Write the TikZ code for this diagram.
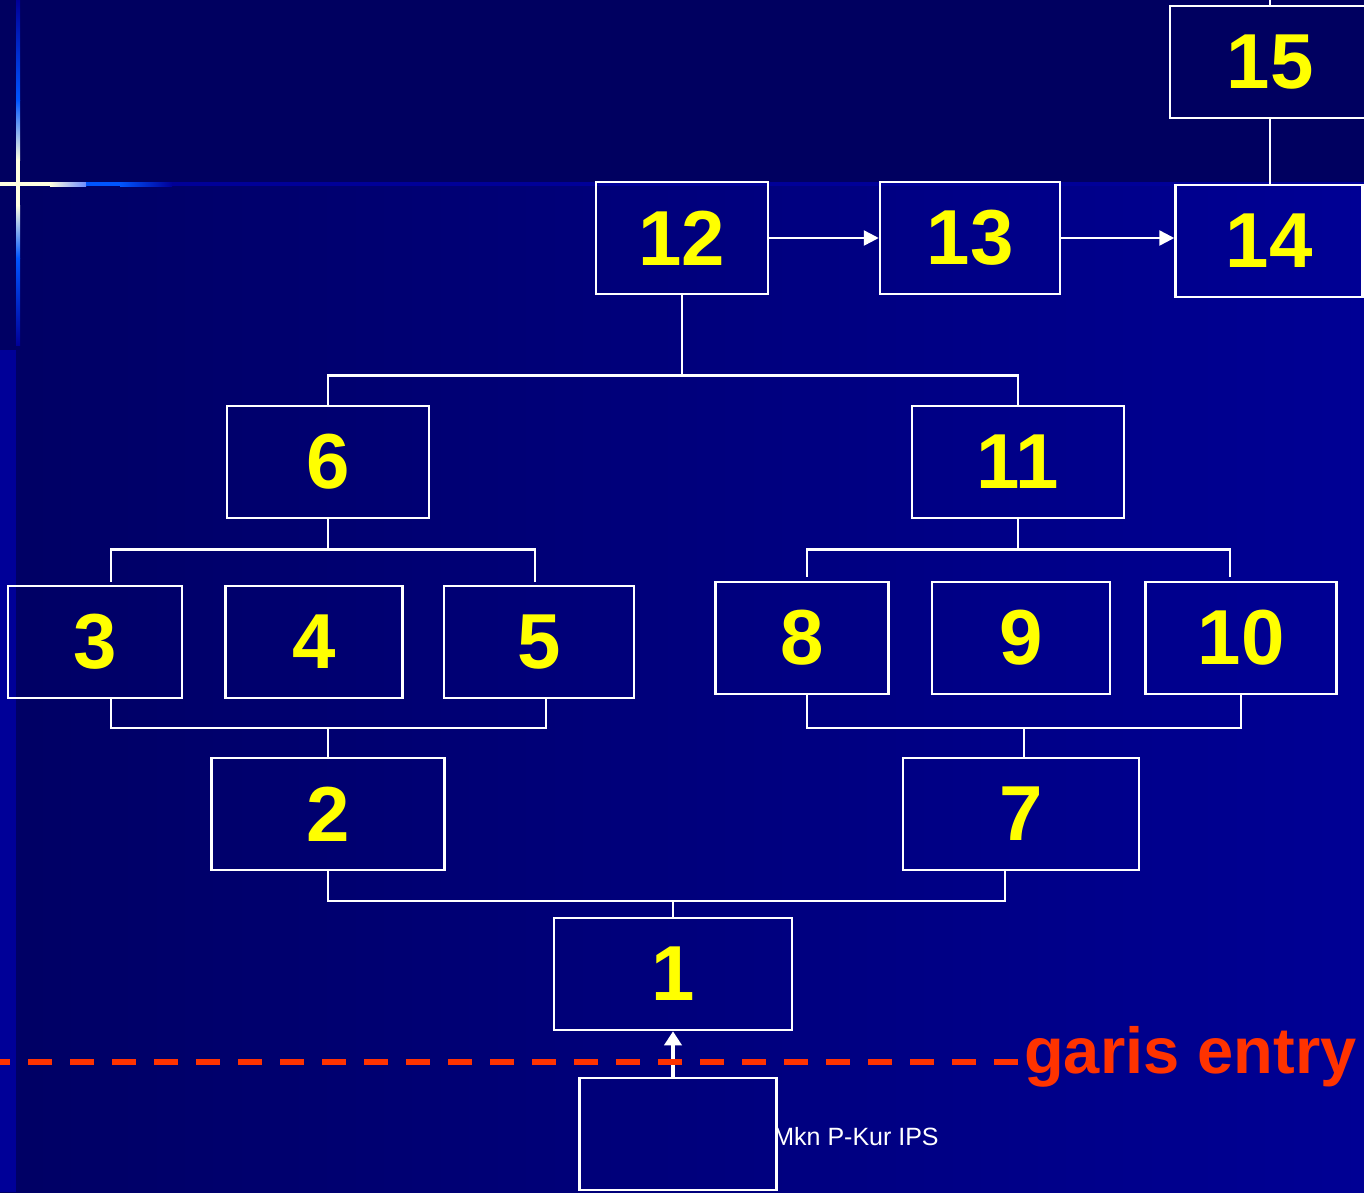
\documentclass[tikz,border=0pt]{standalone}
\usepackage{fontspec}
\setmainfont{Liberation Sans}
\usepackage{xcolor}
\usepackage{tikz}
\usetikzlibrary{calc,arrows.meta}
\definecolor{slideTop}{RGB}{0,0,96}
\definecolor{slideLeft}{RGB}{0,0,100}
\definecolor{slideRight}{RGB}{0,0,148}
\definecolor{slideStrip}{RGB}{0,0,152}
\definecolor{barBlue}{RGB}{0,85,255}
\definecolor{barPale}{RGB}{110,140,255}
\definecolor{barCream}{RGB}{255,255,225}
\definecolor{entryRed}{RGB}{255,51,0}
\definecolor{numYellow}{RGB}{255,255,0}

\begin{document}
\begin{tikzpicture}[x=1pt, y=-1pt,
  kotak/.style={draw=white, line width=2.5pt, minimum height=112pt, inner sep=0pt,
    text=numYellow, font=\fontsize{78}{78}\selectfont\bfseries},
  garis/.style={draw=white, line width=2.5pt},
  panah/.style={garis, -{Triangle[length=15pt,width=15pt]}},
  panahtebal/.style={draw=white, line width=4.5pt, -{Triangle[length=14pt,width=17pt]}}]
\useasboundingbox (0,0) rectangle (1364,1192);
\clip (0,0) rectangle (1364,1192);
% background
\fill[slideTop] (0,0) rectangle (1364,184);
\shade[left color=slideLeft, right color=slideRight] (0,184) rectangle (1364,1192);
\fill[slideStrip] (0,350) rectangle (16,1192);
\fill[slideStrip] (0,182) rectangle (1364,186);
% glowing cross, top left
\shade[top color=slideStrip, bottom color=barBlue] (16,0) rectangle (20,100);
\shade[top color=barBlue, bottom color=barCream] (16,100) rectangle (20,160);
\fill[barCream] (16,160) rectangle (20,205);
\shade[top color=barCream, bottom color=barBlue] (16,205) rectangle (20,258);
\shade[top color=barBlue, bottom color=slideStrip] (16,258) rectangle (20,345);
\fill[barCream] (0,182) rectangle (50,186);
\shade[left color=barCream, right color=barPale] (50,182) rectangle (86,186);
\fill[barBlue] (86,182) rectangle (120,186);
\shade[left color=barBlue, right color=slideStrip] (120,182) rectangle (172,186);

% boxes
\node[kotak, minimum width=200pt] (n15) at (1270,62) {15};
\node[kotak, minimum width=172pt] (n12) at (682,238) {12};
\node[kotak, minimum width=180pt] (n13) at (970,238) {13};
\node[kotak, minimum width=187pt] (n14) at (1269,241) {14};
\node[kotak, minimum width=202pt] (n6) at (328,462) {6};
\node[kotak, minimum width=212pt] (n11) at (1018,462) {11};
\node[kotak, minimum width=174pt] (n3) at (95,642) {3};
\node[kotak, minimum width=177pt] (n4) at (314,642) {4};
\node[kotak, minimum width=190pt] (n5) at (539,642) {5};
\node[kotak, minimum width=173pt] (n8) at (802,638) {8};
\node[kotak, minimum width=178pt] (n9) at (1021,638) {9};
\node[kotak, minimum width=191pt] (n10) at (1241,638) {10};
\node[kotak, minimum width=233pt] (n2) at (328,814) {2};
\node[kotak, minimum width=236pt] (n7) at (1021,814) {7};
\node[kotak, minimum width=238pt] (n1) at (673,974) {1};
\node[kotak, minimum width=197pt] (entri) at (678,1134) {};

% top row
\coordinate (atas) at (1270,-5);
\draw[garis] (n15.north) -- (atas);
\draw[garis] (n15.south) -- (n15.south |- n14.north);
\draw[panah] (n12.east) -- (n13.west);
\draw[panah] (n13.east) -- (n13.east -| n14.west);

% 12 -> 6, 11
\coordinate (j12) at ($(n12.south)+(0,80)$);
\draw[garis] (n12.south) -- (j12);
\draw[garis] (n6.north) |- (j12) -| (n11.north);

% 6 -> 3, 5
\coordinate (j6) at ($(n6.south)+(0,30)$);
\draw[garis] (n6.south) -- (j6);
\draw[garis] ($(n3.north)+(16,-3)$) |- (j6) -| ($(n5.north)+(-4,-3)$);

% 11 -> 8, 10
\coordinate (j11) at ($(n11.south)+(0,30)$);
\draw[garis] (n11.south) -- (j11);
\draw[garis] ($(n8.north)+(5,-4)$) |- (j11) -| ($(n10.north)+(-11,-4)$);

% 3, 5 -> 2
\coordinate (j2) at ($(n2.north)+(0,-29)$);
\draw[garis] ($(n3.south)+(16,0)$) |- (j2) -| ($(n5.south)+(7,0)$);
\draw[garis] (j2) -- (n2.north);

% 8, 10 -> 7
\coordinate (j7) at ($(n7.north)+(3,-29)$);
\draw[garis] ($(n8.south)+(5,0)$) |- (j7) -| (n10.south);
\draw[garis] (j7) -- ($(n7.north)+(3,0)$);

% 2, 7 -> 1
\coordinate (j1) at ($(n1.north)+(0,-16)$);
\draw[garis] (n2.south) |- (j1) -| ($(n7.south)+(-16,0)$);
\draw[garis] (j1) -- (n1.north);

% entry
\draw[panahtebal] (entri.north -| n1.south) -- (n1.south);
\node[anchor=base west, inner sep=0pt, text=entryRed,
  font=\fontsize{65}{65}\selectfont\bfseries] (garisentry) at (1024,1073) {garis entry};
\coordinate (kiri) at (-14,1062);
\draw[entryRed, line width=6pt, dash pattern=on 24pt off 18pt] (kiri) -- (kiri -| garisentry.west);
\node[text=white, inner sep=0pt, font=\fontsize{25}{25}\selectfont] (kaki) at (856,1137) {Mkn P-Kur IPS};
\end{tikzpicture}
\end{document}
